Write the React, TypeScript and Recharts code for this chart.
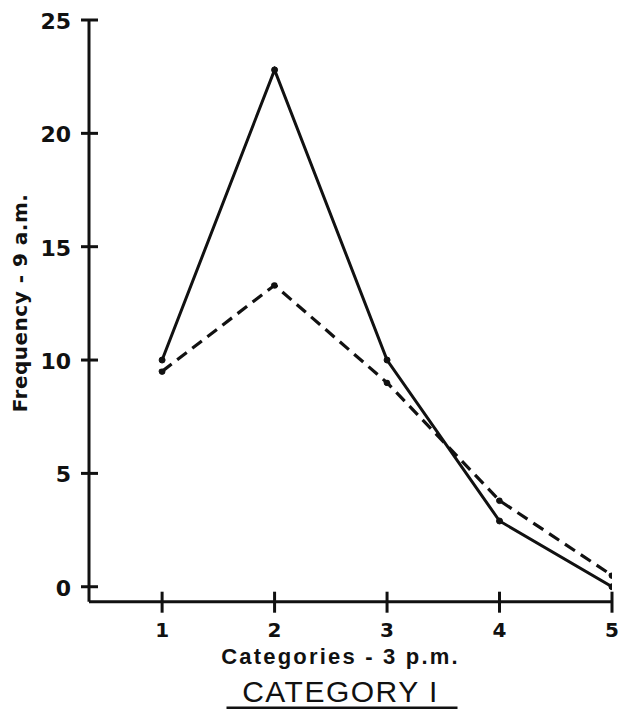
import React from 'react';
import { LineChart, Line, XAxis, YAxis, Label } from 'recharts';

const categories = [1, 2, 3, 4, 5];
const solidSeries = [10, 22.8, 10, 2.9, 0];
const dashedSeries = [9.5, 13.3, 9.0, 3.8, 0.5];
const yTicks = [0, 5, 10, 15, 20, 25];
const xTicks = [1, 2, 3, 4, 5];
const xTickLabels = ['1', '2', '3', '4', '5'];
const yAxisTitle = 'Frequency - 9 a.m.';
const xAxisTitle = 'Categories - 3 p.m.';
const chartTitle = 'CATEGORY I';

const data = categories.map((c, i) => ({ cat: c, solid: solidSeries[i], dashed: dashedSeries[i] }));

const INK = '#111';

const YTick = (props: any) => {
  const { x, y, payload } = props;
  return (
    <g>
      <line x1={x - 8} x2={x + 9} y1={y} y2={y} stroke={INK} strokeWidth={3} />
      <text x={x - 18} y={y + 9} textAnchor="end" fontFamily="DejaVu Sans" fontWeight="bold" fontSize={22} fill={INK}>
        {payload.value}
      </text>
    </g>
  );
};

const XTick = (props: any) => {
  const { x, y, payload } = props;
  const idx = xTicks.indexOf(payload.value);
  return (
    <g>
      <line x1={x} x2={x} y1={y - 10} y2={y + 11} stroke={INK} strokeWidth={3} />
      <text x={x} y={y + 35} textAnchor="middle" fontFamily="DejaVu Sans" fontWeight={600} fontSize={20} fill={INK}>
        {idx >= 0 ? xTickLabels[idx] : payload.value}
      </text>
    </g>
  );
};

const XTitles = (props: any) => {
  const vb = props.viewBox || { x: 89, y: 601.7, width: 523, height: 109 };
  const cx = vb.x + vb.width / 2 - 10;
  return (
    <g>
      <text x={cx} y={vb.y + 62} textAnchor="middle" fontFamily="Liberation Sans" fontWeight="bold" fontSize={22} letterSpacing={2.2} fill={INK}>
        {xAxisTitle}
      </text>
      <text x={cx} y={vb.y + 100} textAnchor="middle" fontFamily="Liberation Sans" fontSize={30} letterSpacing={1.5} fill={INK}>
        {chartTitle}
      </text>
      <line x1={cx - 114} x2={cx + 117} y1={vb.y + 106} y2={vb.y + 106} stroke={INK} strokeWidth={2.5} />
    </g>
  );
};

const YTitle = (props: any) => {
  const vb = props.viewBox || { x: 0, y: 20, width: 89, height: 581.7 };
  const tx = vb.x + 27;
  const ty = vb.y + 283;
  return (
    <text
      x={tx}
      y={ty}
      transform={`rotate(-90 ${tx} ${ty})`}
      textAnchor="middle"
      fontFamily="DejaVu Sans"
      fontWeight="bold"
      fontSize={20}
      letterSpacing={0.5}
      fill={INK}
    >
      {yAxisTitle}
    </text>
  );
};

export default function App() {
  return (
    <div style={{ position: 'absolute', left: 0, top: 0, width: 620, height: 711, background: '#fff' }}>
      <LineChart width={620} height={711} data={data} margin={{ top: 20, right: 8, left: 0, bottom: 0 }}>
        <XAxis
          dataKey="cat"
          type="number"
          domain={[0.35, 5]}
          ticks={xTicks}
          allowDataOverflow
          height={109.3}
          tickSize={0}
          tickMargin={0}
          tickLine={false}
          axisLine={{ stroke: INK, strokeWidth: 3 }}
          tick={<XTick />}
          interval={0}
        >
          <Label content={<XTitles />} />
        </XAxis>
        <YAxis
          type="number"
          domain={[-0.66, 25]}
          ticks={yTicks}
          allowDataOverflow
          width={89}
          tickSize={0}
          tickMargin={0}
          tickLine={false}
          axisLine={{ stroke: INK, strokeWidth: 3 }}
          tick={<YTick />}
          interval={0}
        >
          <Label content={<YTitle />} />
        </YAxis>
        <Line
          type="linear"
          dataKey="dashed"
          stroke={INK}
          strokeWidth={3.2}
          strokeDasharray="12 7"
          dot={{ r: 3, fill: INK, stroke: INK, strokeWidth: 1 }}
          isAnimationActive={false}
        />
        <Line
          type="linear"
          dataKey="solid"
          stroke={INK}
          strokeWidth={3}
          dot={{ r: 3, fill: INK, stroke: INK, strokeWidth: 1 }}
          isAnimationActive={false}
        />
      </LineChart>
    </div>
  );
}
